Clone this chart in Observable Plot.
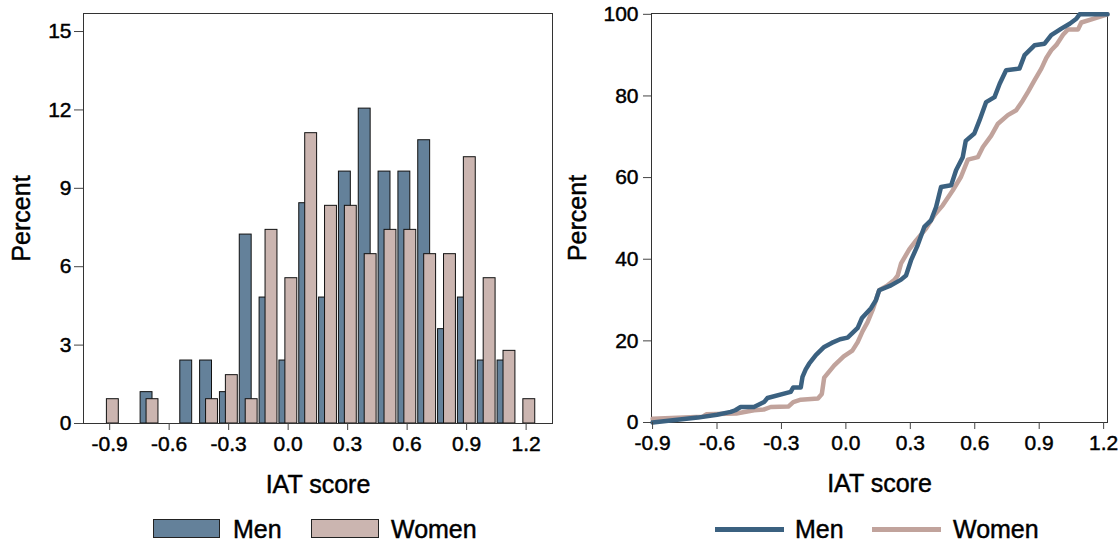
<!DOCTYPE html>
<html>
<head>
<meta charset="utf-8">
<script src="https://cdn.jsdelivr.net/npm/d3@7"></script>
<script src="https://cdn.jsdelivr.net/npm/@observablehq/plot@0.6"></script>
<style>
  body { margin: 0; background: #fff; font-family: "Liberation Sans", Arial, sans-serif; }
  #wrap { position: relative; width: 1119px; height: 544px; overflow: hidden; background: #fff; }
  .panel { position: absolute; top: 0; }
  .panel svg g[aria-label="x-axis label"], .panel svg g[aria-label="y-axis label"] { font-size: 25px; }
  .panel svg text { stroke: #000; stroke-width: 0.45px; }
  .lg { position: absolute; font-size: 25px; line-height: 25px; color: #000; white-space: nowrap; -webkit-text-stroke: 0.45px #000; }
  .sw { position: absolute; box-sizing: border-box; border: 1px solid #222; }
  .ln { position: absolute; height: 5px; }
</style>
</head>
<body>
<div id="wrap">
  <div class="panel" id="left" style="left:0px"></div>
  <div class="panel" id="right" style="left:560px"></div>
</div>
<script>
// ---- Data (percent of respondents per IAT-score bin) ----
const bins     = [-0.9, -0.8, -0.7, -0.6, -0.5, -0.4, -0.3, -0.2, -0.1, 0.0, 0.1, 0.2, 0.3, 0.4, 0.5, 0.6, 0.7, 0.8, 0.9, 1.0, 1.1, 1.2];
const menPct   = [0, 0, 1.20, 0, 2.41, 2.41, 1.20, 7.23, 4.82, 2.41, 8.43, 4.82, 9.64, 12.05, 9.64, 9.64, 10.84, 3.61, 4.82, 2.41, 2.41, 0];
const womenPct = [0.93, 0, 0.93, 0, 0, 0.93, 1.85, 0.93, 7.41, 5.56, 11.11, 8.33, 8.33, 6.48, 7.41, 7.41, 6.48, 6.48, 10.19, 5.56, 2.78, 0.93];

// ---- Cumulative distribution (IAT score, cumulative percent) ----
const menCdfX = [-0.9, -0.69, -0.6, -0.536, -0.515, -0.49, -0.428, -0.381, -0.365, -0.257, -0.245, -0.21, -0.202, -0.187, -0.171, -0.14, -0.101, -0.066, -0.027, 0.008, 0.055, 0.075, 0.117, 0.14, 0.155, 0.21, 0.257, 0.28, 0.303, 0.334, 0.365, 0.396, 0.42, 0.443, 0.49, 0.513, 0.544, 0.558, 0.598, 0.622, 0.653, 0.692, 0.716, 0.746, 0.808, 0.832, 0.878, 0.925, 0.956, 1.003, 1.042, 1.073, 1.088, 1.218];
const menCdfP = [0, 1.2, 1.9, 2.6, 3.0, 3.8, 3.8, 5.0, 6.0, 7.5, 8.6, 8.6, 11.2, 13.0, 14.4, 16.5, 18.5, 19.5, 20.4, 20.8, 23.2, 25.6, 28.0, 30.0, 32.4, 33.6, 35.0, 36.0, 39.7, 43.4, 47.9, 49.5, 52.8, 57.7, 58.1, 61.8, 65.0, 69.0, 70.8, 74.0, 78.5, 79.7, 83.0, 86.3, 86.7, 90.0, 92.4, 92.8, 94.9, 96.5, 97.7, 98.9, 100, 100];
const womenCdfX = [-0.9, -0.668, -0.65, -0.51, -0.428, -0.38, -0.35, -0.268, -0.245, -0.21, -0.13, -0.112, -0.101, -0.054, -0.01, 0.03, 0.055, 0.078, 0.101, 0.124, 0.14, 0.155, 0.194, 0.225, 0.241, 0.257, 0.295, 0.327, 0.373, 0.412, 0.451, 0.498, 0.536, 0.568, 0.614, 0.638, 0.676, 0.708, 0.754, 0.793, 0.824, 0.848, 0.878, 0.91, 0.933, 0.956, 0.98, 1.011, 1.034, 1.081, 1.096, 1.151, 1.218];
const womenCdfP = [0.9, 1.4, 2.0, 2.2, 3.0, 3.2, 3.8, 3.9, 5.0, 5.6, 5.9, 7.0, 11.0, 14.0, 16.2, 17.6, 19.7, 22.4, 24.6, 27.5, 30.0, 32.4, 33.6, 34.9, 36.0, 39.0, 42.4, 44.6, 47.5, 50.8, 53.2, 56.9, 60.2, 64.4, 65.0, 67.5, 70.2, 73.2, 75.3, 76.5, 78.9, 81.0, 83.8, 86.7, 89.3, 91.2, 92.5, 95.0, 96.3, 96.3, 98.0, 98.9, 100];

const xTicks = [-0.9, -0.6, -0.3, 0.0, 0.3, 0.6, 0.9, 1.2];
const yTicksHist = [0, 3, 6, 9, 12, 15];
const yTicksCdf = [0, 20, 40, 60, 80, 100];
const seriesNames = ["Men", "Women"];

const menBarColor = "#64819a";
const womenBarColor = "#cbb5b0";
const menLineColor = "#3b6180";
const womenLineColor = "#c1a39c";
const fontFamily = "'Liberation Sans', Arial, Helvetica, sans-serif";

const menBars = bins.map((b, i) => ({bin: b, pct: menPct[i]})).filter(d => d.pct > 0);
const womenBars = bins.map((b, i) => ({bin: b, pct: womenPct[i]})).filter(d => d.pct > 0);
const menCdf = menCdfX.map((x, i) => ({x, p: menCdfP[i]}));
const womenCdf = womenCdfX.map((x, i) => ({x, p: womenCdfP[i]}));

const fmt1 = d => d.toFixed(1);

const left = Plot.plot({
  width: 560, height: 500,
  marginLeft: 83, marginRight: 8, marginTop: 13, marginBottom: 77,
  style: {fontFamily, fontSize: "21px", color: "#000", background: "transparent", overflow: "visible"},
  x: {domain: [-1.032, 1.333]},
  y: {domain: [0, 15.69]},
  marks: [
    Plot.rect(menBars, {x1: d => d.bin - 0.044, x2: d => d.bin + 0.016, y1: 0, y2: "pct", fill: menBarColor, stroke: "#111", strokeWidth: 1}),
    Plot.rect(womenBars, {x1: d => d.bin - 0.014, x2: d => d.bin + 0.046, y1: 0, y2: "pct", fill: womenBarColor, stroke: "#111", strokeWidth: 1}),
    Plot.frame({stroke: "#333"}),
    Plot.axisX({ticks: xTicks, tickFormat: fmt1, tickSize: 7, tickPadding: 6, stroke: "#444", fill: "#000", fontSize: 21,
      label: "IAT score", labelAnchor: "center", labelOffset: 69, labelArrow: false}),
    Plot.axisY({ticks: yTicksHist, tickSize: 9, tickPadding: 3, stroke: "#444", fill: "#000", fontSize: 21,
      label: "Percent", labelAnchor: "center", labelOffset: 71, labelArrow: false})
  ]
});
document.getElementById("left").appendChild(left);

const right = Plot.plot({
  width: 559, height: 500,
  marginLeft: 91, marginRight: 12, marginTop: 13, marginBottom: 78,
  style: {fontFamily, fontSize: "21px", color: "#000", background: "transparent", overflow: "visible"},
  x: {domain: [-0.905, 1.218]},
  y: {domain: [0, 100.2]},
  marks: [
    Plot.frame({stroke: "#333"}),
    Plot.line(womenCdf, {x: "x", y: "p", stroke: womenLineColor, strokeWidth: 4.5}),
    Plot.line(menCdf, {x: "x", y: "p", stroke: menLineColor, strokeWidth: 4.5}),
    Plot.axisX({ticks: xTicks, tickFormat: fmt1, tickSize: 7, tickPadding: 6, stroke: "#444", fill: "#000", fontSize: 21,
      label: "IAT score", labelAnchor: "center", labelOffset: 69, labelArrow: false}),
    Plot.axisY({ticks: yTicksCdf, tickSize: 8, tickPadding: 5, stroke: "#444", fill: "#000", fontSize: 21,
      label: "Percent", labelAnchor: "center", labelOffset: 83, labelArrow: false})
  ]
});
document.getElementById("right").appendChild(right);

// ---- Legends (HTML, below the plots) ----
const wrap = document.getElementById("wrap");
function add(cls, styles, text) {
  const el = document.createElement("div");
  el.className = cls;
  Object.assign(el.style, styles);
  if (text) el.textContent = text;
  wrap.appendChild(el);
}
// left legend (bar swatches)
add("sw", {left: "153px", top: "519px", width: "67px", height: "19px", background: menBarColor});
add("lg", {left: "233px", top: "517px"}, seriesNames[0]);
add("sw", {left: "311px", top: "519px", width: "68px", height: "19px", background: womenBarColor});
add("lg", {left: "391px", top: "517px"}, seriesNames[1]);
// right legend (line swatches)
add("ln", {left: "715px", top: "527px", width: "69px", background: menLineColor});
add("lg", {left: "795px", top: "517px"}, seriesNames[0]);
add("ln", {left: "872px", top: "527px", width: "69px", background: womenLineColor});
add("lg", {left: "953px", top: "517px"}, seriesNames[1]);
</script>
</body>
</html>
